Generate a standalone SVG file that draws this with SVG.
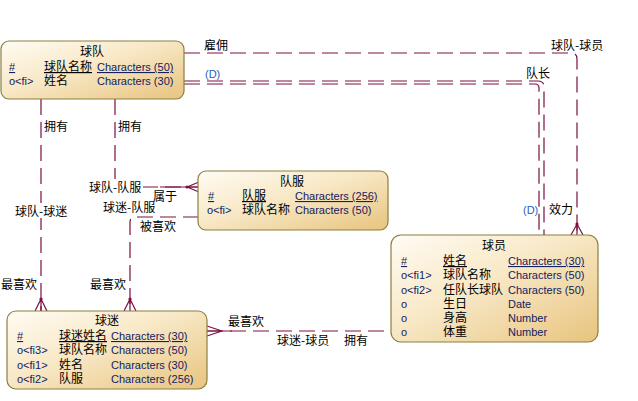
<svg xmlns="http://www.w3.org/2000/svg" width="638" height="401" viewBox="0 0 638 401">
<defs>
<linearGradient id="g" x1="0" y1="0" x2="1" y2="1">
<stop offset="0" stop-color="#fffcf4"/>
<stop offset="0.45" stop-color="#f8e8c6"/>
<stop offset="1" stop-color="#e8c47e"/>
</linearGradient>
<style>
.box{fill:url(#g);stroke:#8a8040;stroke-width:1.2}
.t{font-family:"Noto Sans CJK SC","Liberation Sans",sans-serif;font-size:12px;fill:#000}
.ct{font-family:"Noto Sans CJK SC","Liberation Sans",sans-serif;font-size:12px;fill:#000;text-anchor:middle}
.l{font-family:"Liberation Sans","Noto Sans CJK SC",sans-serif;font-size:11px;fill:#142060}
.u{text-decoration:underline}
.c{fill:none;stroke:#7a1040;stroke-width:1.2;stroke-dasharray:16,7}
.s{fill:none;stroke:#7a1040;stroke-width:1.2}
.lab{font-family:"Noto Sans CJK SC","Liberation Sans",sans-serif;font-size:12px;fill:#000}
.d{font-family:"Liberation Sans",sans-serif;font-size:11px;fill:#1f5fbf}
.bg{fill:#fff}
</style>
</defs>
<rect width="638" height="401" fill="#fff"/>
<g id="connectors">
<path class="c" d="M184,53 H571 Q577,53 577,59 V235"/>
<path class="s" d="M577,224 L571,235 M577,224 L583,235 M577,224 V235"/>
<circle cx="577" cy="224" r="1.6" fill="#7a1040"/>
<path class="c" d="M184,81 H538 Q544,81 544,87 V235"/>
<path class="c" d="M184,84 H535 Q539,84 539,88 V235"/>
<path class="c" d="M41,99 V311"/>
<path class="s" d="M41,299 L35,311 M41,299 L47,311 M41,299 V311"/>
<circle cx="41" cy="299" r="1.6" fill="#7a1040"/>
<path class="c" d="M115,99 V187 H199"/>
<path class="s" d="M187,187 L199,182 M187,187 L199,192 M160,187 H199"/>
<circle cx="187" cy="187" r="1.6" fill="#7a1040"/>
<path class="c" d="M199,217 H135 Q130,217 130,222 V311"/>
<path class="s" d="M130,299 L124,311 M130,299 L136,311 M130,299 V311"/>
<circle cx="130" cy="299" r="1.6" fill="#7a1040"/>
<path class="c" d="M207,331 H391"/>
<path class="s" d="M222,331 L207,326 M222,331 L207,336 M207,331 H232"/>
<rect class="bg" x="14" y="203" width="55" height="15"/>
<rect class="bg" x="88" y="179" width="55" height="15"/>
<rect class="bg" x="102" y="200" width="54" height="14"/>
<text class="lab" x="204" y="50">雇佣</text>
<text class="lab" x="551" y="50">球队-球员</text>
<text class="lab" x="526" y="78">队长</text>
<text class="d" x="205" y="78">(D)</text>
<text class="d" x="523" y="214">(D)</text>
<text class="lab" x="549" y="214">效力</text>
<text class="lab" x="44" y="131">拥有</text>
<text class="lab" x="15" y="216">球队-球迷</text>
<text class="lab" x="1" y="289">最喜欢</text>
<text class="lab" x="118" y="131">拥有</text>
<text class="lab" x="89" y="192">球队-队服</text>
<text class="lab" x="153" y="201">属于</text>
<text class="lab" x="103" y="212">球迷-队服</text>
<text class="lab" x="140" y="231">被喜欢</text>
<text class="lab" x="90" y="289">最喜欢</text>
<text class="lab" x="228" y="326">最喜欢</text>
<text class="lab" x="277" y="345">球迷-球员</text>
<text class="lab" x="344" y="345">拥有</text>
</g>
<g id="team">
<rect class="box" x="1" y="41" width="183" height="58" rx="8"/>
<text class="ct" x="92" y="56">球队</text>
<text class="l u" x="9" y="71">#</text>
<text class="t u" x="44" y="71">球队名称</text>
<text class="l u" x="97" y="71">Characters (50)</text>
<text class="l" x="9" y="85">o&lt;fi&gt;</text>
<text class="t" x="44" y="85">姓名</text>
<text class="l" x="97" y="85">Characters (30)</text>
</g>
<g id="jersey">
<rect class="box" x="198" y="171" width="190" height="59" rx="8"/>
<text class="ct" x="292" y="186">队服</text>
<text class="l u" x="208" y="200">#</text>
<text class="t u" x="242" y="200">队服</text>
<text class="l u" x="295" y="200">Characters (256)</text>
<text class="l" x="207" y="214">o&lt;fi&gt;</text>
<text class="t" x="242" y="214">球队名称</text>
<text class="l" x="295" y="214">Characters (50)</text>
</g>
<g id="player">
<rect class="box" x="391" y="235" width="207" height="107" rx="10"/>
<text class="ct" x="494" y="250">球员</text>
<text class="l u" x="401" y="265">#</text>
<text class="t u" x="443" y="265">姓名</text>
<text class="l u" x="508" y="265">Characters (30)</text>
<text class="l" x="401" y="279">o&lt;fi1&gt;</text>
<text class="t" x="443" y="279">球队名称</text>
<text class="l" x="508" y="279">Characters (50)</text>
<text class="l" x="401" y="294">o&lt;fi2&gt;</text>
<text class="t" x="443" y="294">任队长球队</text>
<text class="l" x="508" y="294">Characters (50)</text>
<text class="l" x="401" y="308">o</text>
<text class="t" x="443" y="308">生日</text>
<text class="l" x="508" y="308">Date</text>
<text class="l" x="401" y="322">o</text>
<text class="t" x="443" y="322">身高</text>
<text class="l" x="508" y="322">Number</text>
<text class="l" x="401" y="336">o</text>
<text class="t" x="443" y="336">体重</text>
<text class="l" x="508" y="336">Number</text>
</g>
<g id="fan">
<rect class="box" x="7" y="311" width="200" height="78" rx="9"/>
<text class="ct" x="107" y="325">球迷</text>
<text class="l u" x="17" y="340">#</text>
<text class="t u" x="59" y="340">球迷姓名</text>
<text class="l u" x="111" y="340">Characters (30)</text>
<text class="l" x="17" y="354">o&lt;fi3&gt;</text>
<text class="t" x="59" y="354">球队名称</text>
<text class="l" x="111" y="354">Characters (50)</text>
<text class="l" x="17" y="369">o&lt;fi1&gt;</text>
<text class="t" x="59" y="369">姓名</text>
<text class="l" x="111" y="369">Characters (30)</text>
<text class="l" x="17" y="383">o&lt;fi2&gt;</text>
<text class="t" x="59" y="383">队服</text>
<text class="l" x="111" y="383">Characters (256)</text>
</g>
</svg>
